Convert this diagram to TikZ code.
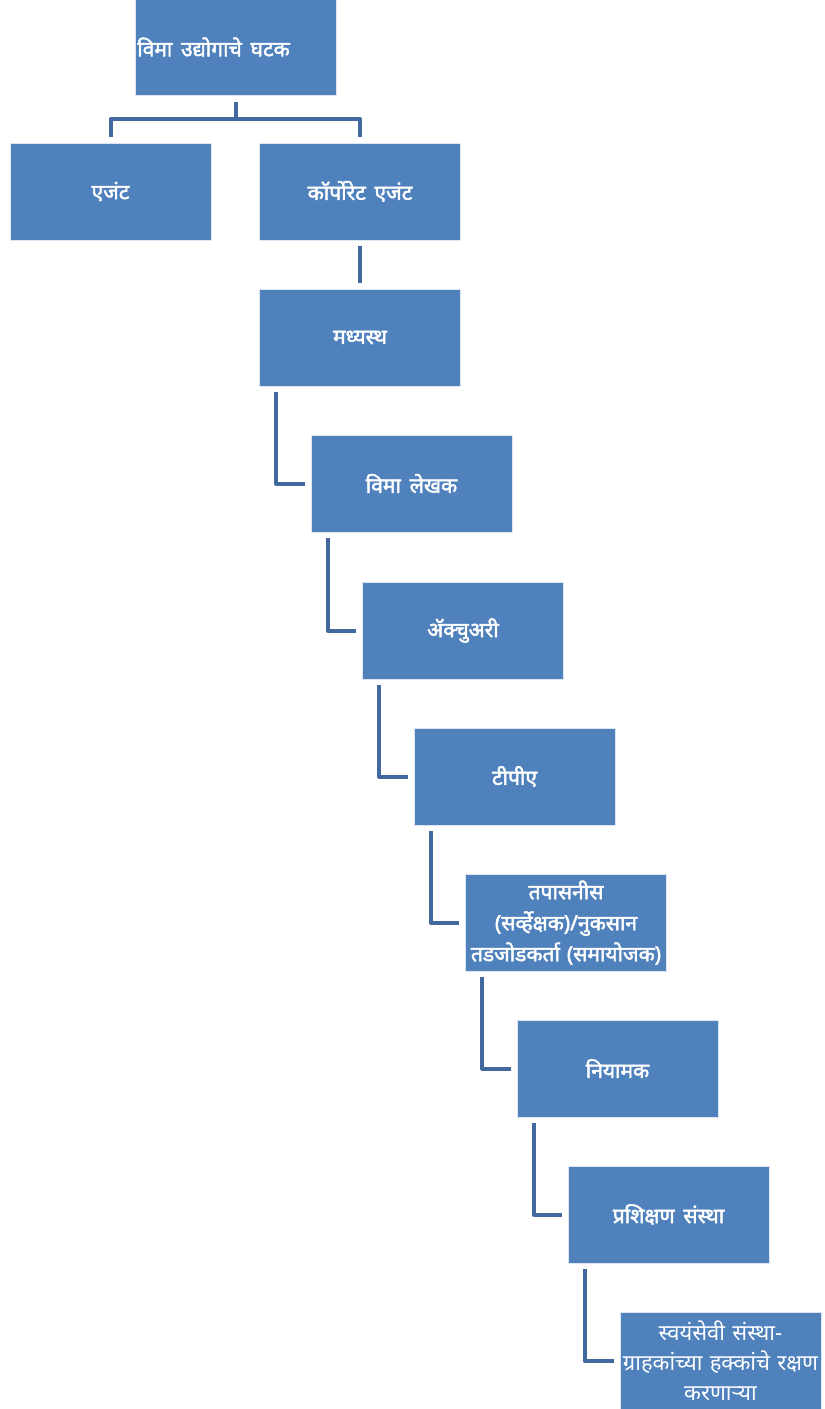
\documentclass[tikz,border=0pt]{standalone}
\usepackage{fontspec}
\newfontfamily\deva[Script=Devanagari, AutoFakeBold=2.2, WordSpace=1.6]{Noto Sans}
\usepackage{xcolor}
\definecolor{boxblue}{HTML}{4F81BD}
\definecolor{lineblue}{HTML}{41699E}
\usetikzlibrary{positioning,calc}
\tikzset{
    box/.style={
        rectangle,
        fill=boxblue,
        draw=white!80!boxblue,
        line width=0.4pt,
        text=white,
        align=center,
        minimum width=100.5pt,
        minimum height=48.5pt,
        inner sep=1pt,
        font=\deva\bfseries\fontsize{10.5}{15.5}\selectfont
    },
    conn/.style={draw=lineblue, line width=2pt, line join=round}
}

\begin{document}
\begin{tikzpicture}[x=0.5pt,y=-0.5pt]
        \useasboundingbox (0,0) rectangle (825,1409);
        % Riquadri
        \node[box] (top) at (235.5,47) {विमा उद्योगाचे घटक\hspace{22pt}};
        \node[box] (agent) at (110.5,191.5) {एजंट};
        \node[box] (corp) at (360,191.5) {कॉर्पोरेट एजंट};
        \node[box] (mid) at (360,337.5) {मध्यस्थ};
        \node[box] (lekh) at (411.5,483.5) {विमा लेखक};
        \node[box] (act) at (463,630.5) {ॲक्चुअरी};
        \node[box] (tpa) at (514.5,776.5) {टीपीए};
        \node[box, text width=98.5pt] (survey) at (566,922.5) {तपासनीस\\(सर्व्हेक्षक)/नुकसान\\तडजोडकर्ता (समायोजक)};
        \node[box] (niyam) at (617.5,1068.5) {नियामक};
        \node[box] (train) at (668.5,1214.5) {प्रशिक्षण संस्था};
        \node[box, text width=98.5pt, font=\deva\fontsize{11}{15}\selectfont] (ngo) at (720.5,1361) {स्वयंसेवी संस्था-\\ग्राहकांच्या हक्कांचे रक्षण\\करणाऱ्या};

        % Ramificazione in alto
        \coordinate (split) at (235.5,119);
        \draw[conn] ([yshift=-3pt]top.south) -- (split);
        \draw[conn] ([yshift=3pt]agent.north) |- (split) -| ([yshift=3pt]corp.north);
        \draw[conn] ([yshift=-3pt]corp.south) -- ([yshift=3pt]mid.north);

        % Scala
        \foreach \a/\b in {mid/lekh, lekh/act, act/tpa, tpa/survey, survey/niyam, niyam/train, train/ngo}
            \draw[conn] ([xshift=8.5pt,yshift=-3pt]\a.south west) |- ([xshift=-3pt]\b.west);
\end{tikzpicture}
\end{document}
